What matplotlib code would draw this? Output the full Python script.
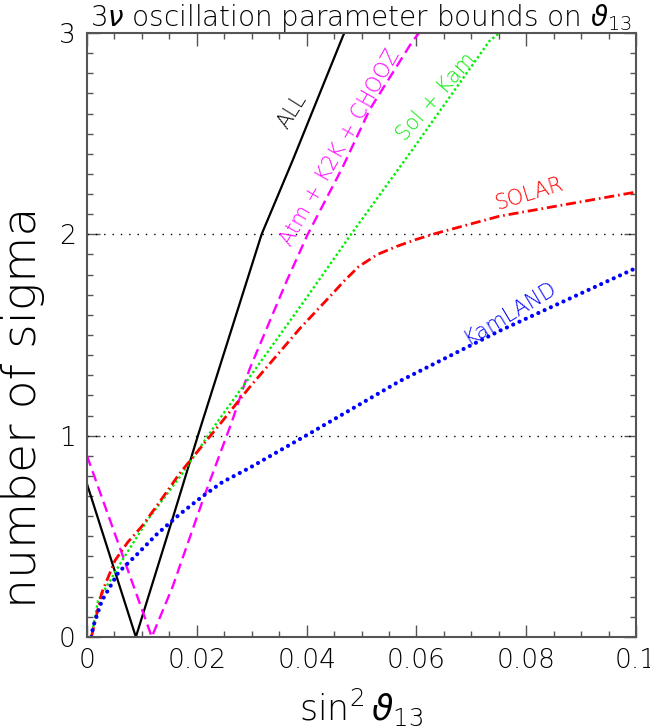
import numpy as np
import matplotlib
matplotlib.use("Agg")
import matplotlib.pyplot as plt
from matplotlib.ticker import MultipleLocator

# curve data: sin^2(theta13) vs number of sigma
all_x = [0, 0.0089, 0.0155, 0.0202, 0.026, 0.0318, 0.0375, 0.0467, 0.0469]
all_y = [0.76, 0, 0.58, 1.0, 1.5, 2.0, 2.37, 2.99, 3.0]

atm_x = [0, 0.0118, 0.0156, 0.0211, 0.0264, 0.0296, 0.0364, 0.0402, 0.0465, 0.0515, 0.0593, 0.0605]
atm_y = [0.90, 0, 0.25, 0.68, 1.07, 1.33, 1.77, 2.0, 2.33, 2.62, 2.96, 3.0]

solkam_x = [0.0008, 0.002, 0.0064, 0.011, 0.0173, 0.0238, 0.0296, 0.0396, 0.0481, 0.059, 0.0733, 0.0751]
solkam_y = [0, 0.18, 0.38, 0.58, 0.81, 1.07, 1.29, 1.67, 2.0, 2.41, 2.96, 3.0]

solar_x = [0.0008, 0.0027, 0.0051, 0.0074, 0.01, 0.0124, 0.0145, 0.0168, 0.024, 0.0296, 0.0387,
           0.0442, 0.0469, 0.0495, 0.0529, 0.0564, 0.06, 0.0636, 0.0751, 0.1]
solar_y = [0, 0.22, 0.38, 0.47, 0.55, 0.64, 0.72, 0.81, 1.05, 1.24, 1.53,
           1.69, 1.77, 1.84, 1.90, 1.94, 1.975, 2.005, 2.09, 2.21]

kam_x = [0.0008, 0.0011, 0.0027, 0.0057, 0.0091, 0.0127, 0.0169, 0.0211, 0.0247, 0.0296,
         0.0405, 0.0569, 0.0751, 0.0998]
kam_y = [0, 0.05, 0.18, 0.32, 0.41, 0.51, 0.61, 0.70, 0.77, 0.84,
         1.01, 1.27, 1.52, 1.83]

sigma_lines = [1, 2]
xticks = [0, 0.02, 0.04, 0.06, 0.08, 0.1]
xticklabels = ["0", "0.02", "0.04", "0.06", "0.08", "0.1"]
yticks = [0, 1, 2, 3]

plt.rcParams['font.family'] = ['DejaVu Sans']
plt.rcParams['font.weight'] = 'light'
plt.rcParams['axes.labelweight'] = 'light'
plt.rcParams['mathtext.fontset'] = 'dejavusans'

fig = plt.figure(figsize=(6.5, 7.28), dpi=100)
ax = fig.add_axes([87/650, 91/728, 549/650, 604/728])

for s in sigma_lines:
    ax.axhline(s, color="black", lw=1.0, ls=(0, (1, 5)))

ax.plot(all_x, all_y, color="black", lw=1.6)
ax.plot(atm_x, atm_y, color="#ff00ff", lw=1.7, ls=(0, (4.5, 2.4)))
ax.plot(solkam_x, solkam_y, color="#00ee00", lw=1.7, ls=(0, (1, 1.1)))
ax.plot(solar_x, solar_y, color="#ff0000", lw=2.0, ls=(0, (3.6, 1.4, 0.6, 1.4)))
ax.plot(kam_x, kam_y, color="#0000ff", lw=3.0, ls=(0, (0.01, 1.65)), dash_capstyle="round")

ax.text(0.0373, 2.61, "ALL", color="black", fontsize=15, rotation=58, ha="center", va="center")
ax.text(0.0462, 2.43, "Atm + K2K + CHOOZ", color="#ff00ff", fontsize=15, rotation=60.5, ha="center", va="center")
ax.text(0.0636, 2.68, "Sol + Kam", color="#00ee00", fontsize=15, rotation=49, ha="center", va="center")
ax.text(0.0805, 2.20, "SOLAR", color="#ff0000", fontsize=15, rotation=17, ha="center", va="center")
ax.text(0.0771, 1.61, "KamLAND", color="#0000ff", fontsize=15, rotation=31, ha="center", va="center")

ax.set_xlim(0, 0.1)
ax.set_ylim(0, 3)
ax.set_xticks(xticks)
ax.set_xticklabels(xticklabels)
ax.set_yticks(yticks)
ax.xaxis.set_minor_locator(MultipleLocator(0.005))
ax.yaxis.set_minor_locator(MultipleLocator(0.1))
ax.tick_params(which="both", direction="in", top=True, right=True, color="#555555")
ax.tick_params(which="major", length=9, width=1.0, labelsize=19, pad=8)
ax.tick_params(which="minor", length=4, width=1.0)
for sp in ax.spines.values():
    sp.set_color("#555555")
    sp.set_linewidth(1.5)

ax.set_ylabel("number of sigma", fontsize=34, fontweight="light")
ax.yaxis.set_label_coords(-0.077, 0.38)
ax.set_xlabel(r"$\sin^2\vartheta_{13}$", fontsize=25, labelpad=10)
fig.text(361/650, 1 - 18/728, r"$3\nu$ oscillation parameter bounds on $\vartheta_{13}$",
         fontsize=20, ha="center", va="center")

fig.savefig("out.png", dpi=100)
